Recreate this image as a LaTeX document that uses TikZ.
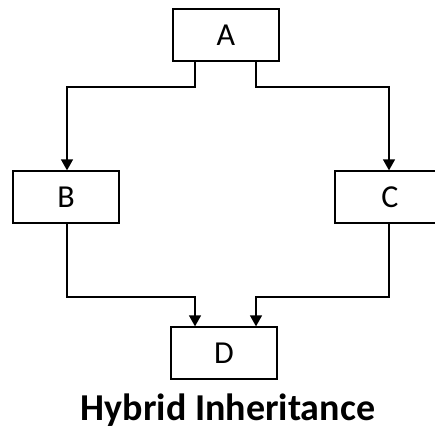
\documentclass[tikz,border=0pt]{standalone}
\usepackage{fontspec}
\setmainfont{Carlito}
\usetikzlibrary{arrows.meta}
\begin{document}
\begin{tikzpicture}[x=1pt,y=-1pt,
  cls/.style={draw=black,line width=1.3pt,minimum width=106pt,minimum height=52pt,
    inner sep=0pt,font=\fontsize{32}{38}\selectfont},
  link/.style={line width=1.3pt,-{Triangle[length=11pt,width=12pt]}}]
\useasboundingbox (0,0) rectangle (435,429);
% class boxes
\node[cls] (A) at (226,35) {A};
\node[cls] (B) at (66,197) {B};
\node[cls,minimum width=110pt] (C) at (390,197) {C};
\node[cls] (D) at (224,353) {D};
% caption
\node[font=\fontsize{38}{44}\selectfont\bfseries] (T) at (228,410) {Hybrid Inheritance};
% connector ports
\coordinate (a1) at (A.south -| 195,0);
\coordinate (a2) at (A.south -| 256,0);
\coordinate (b1) at (B.south -| 67,0);
\coordinate (c1) at (C.south -| 389,0);
\coordinate (d1) at (D.north -| 195,0);
\coordinate (d2) at (D.north -| 256,0);
% inheritance links
\draw[link] (a1) |- (67,87) -- (B.north -| 67,0);
\draw[link] (a2) |- (389,87) -- (C.north -| 389,0);
\draw[link] (b1) |- (195,297) -- (d1);
\draw[link] (c1) |- (256,297) -- (d2);
\end{tikzpicture}
\end{document}
